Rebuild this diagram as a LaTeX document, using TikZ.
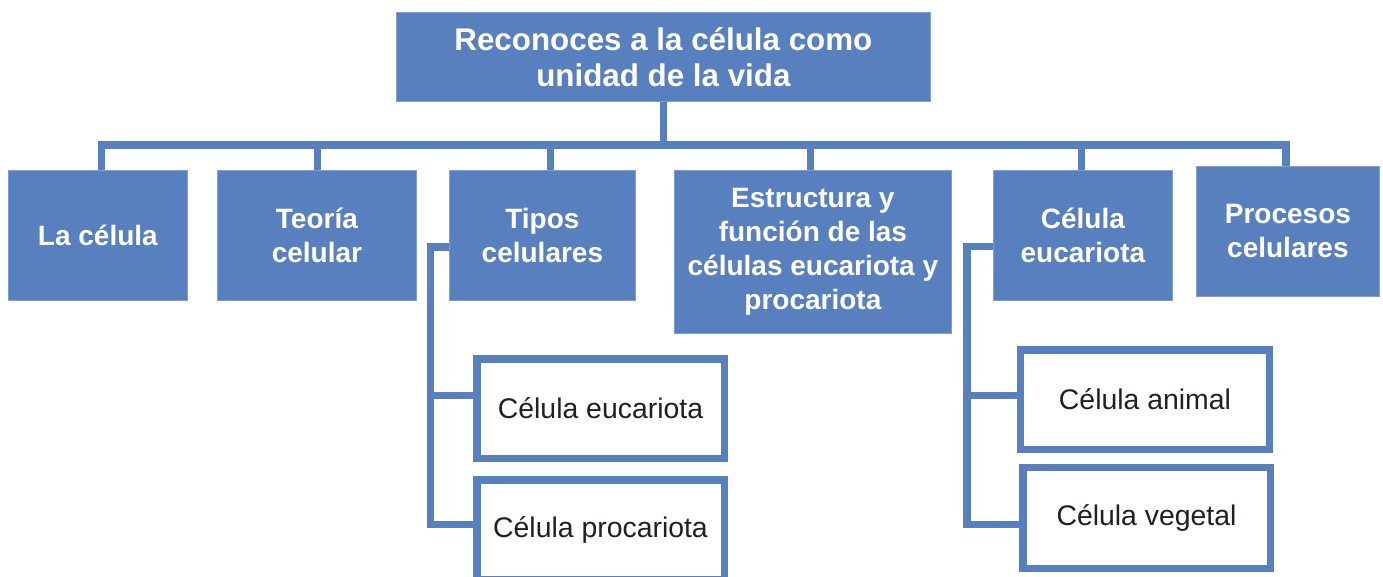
\documentclass[tikz,border=0pt]{standalone}
\usepackage{fontspec}
\setmainfont{Liberation Sans}
\definecolor{cblue}{RGB}{89,128,190}
\definecolor{ctext}{RGB}{35,31,32}
\begin{document}
\begin{tikzpicture}[x=0.75pt,y=-0.75pt,
 bluebox/.style={fill=cblue, draw=cblue!75!white, line width=0.6pt, text=white,
   font=\fontsize{21}{25.6}\selectfont\bfseries, align=center, inner sep=0pt, anchor=north west},
 topbox/.style={bluebox, font=\fontsize{23.5}{27}\selectfont\bfseries},
 whitebox/.style={draw=cblue, line width=5.6pt, fill=white, text=ctext,
   font=\fontsize{21.3}{25}\selectfont, minimum width=185.6pt, minimum height=74.6pt, inner sep=0pt},
 conn/.style={draw=cblue, line width=5.6pt, line join=miter}]
\useasboundingbox (0,0) rectangle (1383,576);
\clip (0,0) rectangle (1383,576);
% top
\node[topbox, minimum width=400.5pt, minimum height=66.75pt] (top) at (396,12) {Reconoces a la célula como\\unidad de la vida};
% level 1
\node[bluebox, minimum width=134.25pt, minimum height=97.5pt] (b1) at (8,170) {La célula};
\node[bluebox, minimum width=149.25pt, minimum height=97.5pt] (b2) at (217,170) {Teoría\\celular};
\node[bluebox, minimum width=139.5pt, minimum height=97.5pt] (b3) at (449,170) {Tipos\\celulares};
\node[bluebox, minimum width=207.75pt, minimum height=122.25pt] (b4) at (674,170) {Estructura y\\función de las\\células eucariota y\\procariota};
\node[bluebox, minimum width=134.25pt, minimum height=97.5pt] (b5) at (993,170) {Célula\\eucariota};
\node[bluebox, minimum width=137.25pt, minimum height=97.5pt] (b6) at (1196,166) {Procesos\\celulares};
% level 2
\node[whitebox] (ce) at (600.5,408.5) {Célula eucariota};
\node[whitebox] (cp) at (600.5,529.5) {Célula procariota};
\node[whitebox, minimum width=186.4pt] (ca) at (1145,399.5) {Célula animal};
\node[whitebox, minimum height=75.4pt] (cv) at (1146.5,518) {Célula vegetal};
% connectors from top
\draw[conn] (top.south) -- ++(0,43) -| ([xshift=2.6pt]b1.north);
\draw[conn] (top.south) -- ++(0,43) -| ([xshift=0.4pt]b2.north);
\draw[conn] (top.south) -- ++(0,43) -| ([xshift=6pt]b3.north);
\draw[conn] (top.south) -- ++(0,43) -| ([xshift=-1.9pt]b4.north);
\draw[conn] (top.south) -- ++(0,43) -| ([xshift=-1.1pt]b5.north);
\draw[conn] (top.south) -- ++(0,43) -| ([xshift=-1.5pt]b6.north);
% Tipos celulares branches
\draw[conn] ([yshift=-8.6pt]b3.west) -- ++(-18.5,0) |- ([yshift=9.75pt]ce.west);
\draw[conn] ([yshift=-8.6pt]b3.west) -- ++(-18.5,0) |- ([yshift=3.75pt]cp.west);
% Celula eucariota branches
\draw[conn] ([yshift=-8.25pt]b5.west) -- ++(-26,0) |- ([yshift=3pt]ca.west);
\draw[conn] ([yshift=-8.25pt]b5.west) -- ++(-26,0) |- ([yshift=-4.9pt]cv.west);
\end{tikzpicture}
\end{document}
